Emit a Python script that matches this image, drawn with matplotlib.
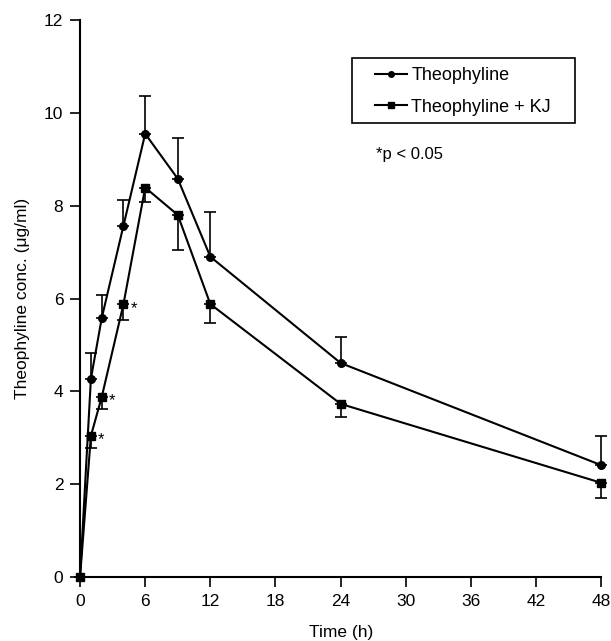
import matplotlib
matplotlib.use("Agg")
import matplotlib.pyplot as plt
from matplotlib.lines import Line2D
from matplotlib.patches import Rectangle
import numpy as np

plt.rcParams['font.family'] = ['Liberation Sans', 'DejaVu Sans']

time_h = [0, 1, 2, 4, 6, 9, 12, 24, 48]
theo = [0, 4.27, 5.58, 7.57, 9.55, 8.58, 6.9, 4.61, 2.41]
theo_err_up = [0, 0.55, 0.5, 0.55, 0.82, 0.88, 0.97, 0.56, 0.63]
kj = [0, 3.04, 3.88, 5.88, 8.39, 7.8, 5.88, 3.73, 2.03]
kj_err_down = [0, 0.26, 0.26, 0.34, 0.31, 0.75, 0.41, 0.28, 0.33]
sig_flags = [False, True, True, True, False, False, False, False, False]

x_ticks = [0, 6, 12, 18, 24, 30, 36, 42, 48]
y_ticks = [0, 2, 4, 6, 8, 10, 12]

fig = plt.figure(figsize=(6.11, 6.41), dpi=100)
ax = fig.add_axes([0.131, 0.0998, 0.853, 0.869])

zeros = np.zeros(len(time_h))
ax.errorbar(time_h, theo, yerr=[zeros, theo_err_up], color='black', lw=1.5,
            marker='o', ms=5.5, capsize=4, elinewidth=1.2, capthick=1.2,
            clip_on=False, zorder=3)
ax.errorbar(time_h, kj, yerr=[kj_err_down, zeros], color='black', lw=1.5,
            marker='s', ms=6, capsize=4, elinewidth=1.2, capthick=1.2,
            clip_on=False, zorder=3)

for t, v, s in zip(time_h, kj, sig_flags):
    if s:
        ax.annotate('*', (t, v), xytext=(5, -3), textcoords='offset points',
                    fontsize=12, ha='left', va='center')

ax.set_xlim(0, 48)
ax.set_ylim(0, 12)
ax.set_xticks(x_ticks)
ax.set_yticks(y_ticks)
ax.tick_params(direction='out', length=7, width=1.2, labelsize=12.5, pad=5)
for side in ['top', 'right']:
    ax.spines[side].set_visible(False)
for side in ['left', 'bottom']:
    ax.spines[side].set_linewidth(1.5)

ax.set_xlabel('Time (h)', fontsize=12.5, labelpad=12)
ax.set_ylabel('Theophyline conc. (\u03bcg/ml)', fontsize=12.5, labelpad=10)

handles = [Line2D([], [], color='black', lw=1.5, marker='o', ms=4),
           Line2D([], [], color='black', lw=1.5, marker='s', ms=4)]
labels = ['Theophyline', 'Theophyline + KJ']
leg = ax.legend(handles, labels, loc='upper left', bbox_to_anchor=(0.566, 0.915),
                fontsize=13, frameon=False,
                handlelength=1.75, handletextpad=0.25, borderpad=0.0,
                borderaxespad=0.0, labelspacing=0.8)

ax.add_patch(Rectangle((0.522, 0.815), 0.428, 0.117, transform=ax.transAxes,
                       fill=False, edgecolor='black', lw=1.2, clip_on=False))

ax.text(0.567, 0.758, '*p < 0.05', transform=ax.transAxes, fontsize=12,
        va='center')

fig.savefig('out.png', dpi=100)
